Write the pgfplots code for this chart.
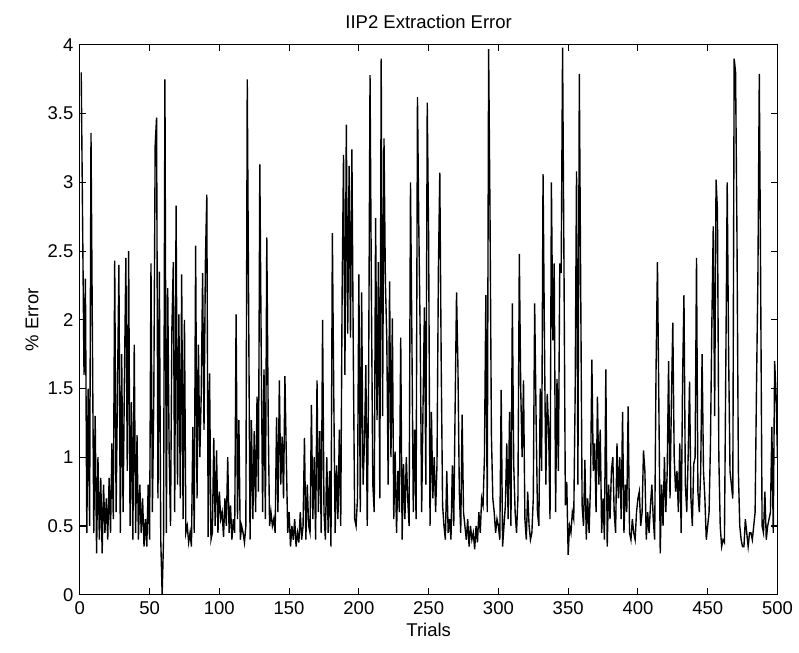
\documentclass[border=0pt]{standalone}
\usepackage{fontspec}
\setmainfont{Liberation Sans}
\usepackage{pgfplots}
\usepackage{pgfplotstable}
\pgfplotsset{compat=1.18}

% percent error of each trial, trials 1..500, ten per line
\pgfplotstableread[row sep=\\]{
err\\
3.80\\ 2.70\\ 1.60\\ 2.30\\ 0.45\\ 1.50\\ 0.50\\ 3.36\\ 1.90\\ 0.45\\
1.30\\ 0.30\\ 1.00\\ 0.40\\ 0.85\\ 0.30\\ 0.80\\ 0.45\\ 0.70\\ 0.40\\
0.85\\ 0.45\\ 1.10\\ 0.55\\ 2.43\\ 0.60\\ 1.50\\ 2.40\\ 0.45\\ 1.75\\
0.60\\ 1.60\\ 2.45\\ 0.90\\ 2.50\\ 0.50\\ 1.40\\ 0.40\\ 1.82\\ 0.45\\
1.16\\ 0.40\\ 0.80\\ 0.45\\ 0.70\\ 0.35\\ 0.55\\ 0.35\\ 0.80\\ 0.40\\
2.41\\ 0.60\\ 1.40\\ 3.27\\ 3.47\\ 0.70\\ 2.35\\ 0.40\\ 0.00\\ 0.40\\
3.75\\ 0.45\\ 2.23\\ 1.05\\ 0.50\\ 1.94\\ 2.42\\ 0.60\\ 2.83\\ 0.80\\
2.04\\ 0.70\\ 2.33\\ 0.55\\ 2.00\\ 0.45\\ 0.50\\ 0.38\\ 0.45\\ 0.35\\
1.22\\ 0.45\\ 2.54\\ 0.70\\ 1.82\\ 1.00\\ 1.45\\ 2.34\\ 1.20\\ 2.42\\
2.91\\ 0.42\\ 1.61\\ 0.40\\ 0.45\\ 1.14\\ 0.50\\ 1.05\\ 0.45\\ 0.75\\
0.55\\ 0.60\\ 0.42\\ 0.70\\ 0.50\\ 1.00\\ 0.45\\ 0.65\\ 0.40\\ 0.55\\
0.45\\ 2.04\\ 0.55\\ 1.27\\ 0.40\\ 0.50\\ 0.45\\ 0.38\\ 0.50\\ 3.75\\
2.08\\ 0.40\\ 1.27\\ 0.55\\ 1.19\\ 0.60\\ 1.44\\ 0.75\\ 3.13\\ 1.79\\
0.60\\ 1.64\\ 0.55\\ 2.60\\ 1.30\\ 0.50\\ 0.60\\ 0.50\\ 0.55\\ 0.45\\
1.29\\ 0.60\\ 1.56\\ 0.80\\ 1.15\\ 0.70\\ 1.59\\ 1.00\\ 0.45\\ 0.60\\
0.35\\ 0.50\\ 0.40\\ 0.55\\ 0.35\\ 0.45\\ 0.38\\ 0.60\\ 0.40\\ 0.50\\
1.14\\ 0.40\\ 0.80\\ 0.50\\ 0.45\\ 1.38\\ 0.55\\ 1.00\\ 0.40\\ 1.56\\
0.60\\ 1.19\\ 0.45\\ 2.00\\ 0.60\\ 0.40\\ 1.00\\ 0.45\\ 0.90\\ 0.35\\
2.63\\ 1.46\\ 0.45\\ 0.94\\ 0.55\\ 1.20\\ 0.50\\ 2.20\\ 3.20\\ 1.60\\
3.42\\ 1.90\\ 3.12\\ 1.87\\ 3.24\\ 1.76\\ 0.55\\ 0.50\\ 0.70\\ 2.33\\
0.60\\ 2.20\\ 0.80\\ 1.10\\ 1.67\\ 0.50\\ 1.60\\ 3.78\\ 2.15\\ 0.80\\
0.60\\ 2.74\\ 1.27\\ 2.42\\ 0.70\\ 3.90\\ 1.30\\ 3.32\\ 2.28\\ 1.87\\
0.80\\ 2.28\\ 1.00\\ 2.01\\ 0.55\\ 1.04\\ 0.45\\ 0.90\\ 0.60\\ 1.87\\
0.40\\ 0.95\\ 0.55\\ 1.00\\ 0.70\\ 0.50\\ 3.00\\ 1.87\\ 0.60\\ 1.20\\
0.55\\ 3.62\\ 2.64\\ 1.85\\ 0.60\\ 1.38\\ 2.09\\ 0.80\\ 3.58\\ 2.59\\
0.50\\ 1.33\\ 0.70\\ 1.00\\ 0.60\\ 0.95\\ 2.37\\ 3.07\\ 1.70\\ 0.65\\
0.50\\ 0.40\\ 0.90\\ 0.45\\ 0.55\\ 0.40\\ 0.94\\ 0.50\\ 1.37\\ 2.20\\
1.66\\ 0.75\\ 0.45\\ 1.31\\ 0.60\\ 0.50\\ 0.40\\ 0.55\\ 0.35\\ 0.50\\
0.40\\ 0.45\\ 0.33\\ 0.50\\ 0.38\\ 0.60\\ 0.45\\ 0.70\\ 0.65\\ 1.00\\
2.18\\ 0.60\\ 3.97\\ 2.76\\ 1.16\\ 0.70\\ 0.60\\ 0.45\\ 0.55\\ 0.50\\
0.40\\ 1.49\\ 0.35\\ 0.50\\ 0.65\\ 1.10\\ 0.55\\ 1.33\\ 0.50\\ 2.12\\
0.94\\ 0.60\\ 0.45\\ 0.70\\ 2.48\\ 1.50\\ 1.00\\ 1.56\\ 0.55\\ 0.40\\
0.75\\ 0.50\\ 0.40\\ 0.45\\ 0.70\\ 2.12\\ 1.30\\ 0.60\\ 0.50\\ 1.50\\
0.90\\ 3.06\\ 1.87\\ 0.80\\ 1.46\\ 1.20\\ 0.55\\ 3.00\\ 1.85\\ 2.41\\
0.60\\ 1.57\\ 0.90\\ 2.41\\ 2.34\\ 3.98\\ 2.41\\ 0.65\\ 0.82\\ 0.29\\
0.50\\ 0.45\\ 0.60\\ 0.55\\ 1.44\\ 3.08\\ 0.80\\ 3.79\\ 2.23\\ 0.65\\
0.50\\ 0.98\\ 0.40\\ 0.70\\ 0.45\\ 0.80\\ 1.71\\ 0.90\\ 1.10\\ 0.60\\
1.44\\ 0.80\\ 1.20\\ 0.45\\ 0.70\\ 0.40\\ 1.64\\ 0.35\\ 0.80\\ 0.55\\
0.90\\ 1.00\\ 0.60\\ 0.45\\ 1.10\\ 0.70\\ 1.00\\ 0.55\\ 1.33\\ 0.45\\
0.80\\ 0.60\\ 1.37\\ 0.45\\ 0.40\\ 0.55\\ 0.45\\ 0.40\\ 0.60\\ 0.70\\
0.75\\ 0.50\\ 0.60\\ 1.05\\ 0.90\\ 0.40\\ 0.60\\ 0.45\\ 0.65\\ 0.80\\
0.55\\ 0.40\\ 1.64\\ 2.42\\ 1.40\\ 0.30\\ 0.80\\ 0.50\\ 1.00\\ 0.60\\
0.90\\ 1.70\\ 0.70\\ 1.40\\ 1.98\\ 1.00\\ 0.75\\ 0.90\\ 0.60\\ 1.10\\
0.45\\ 1.55\\ 2.18\\ 0.80\\ 0.60\\ 1.00\\ 1.55\\ 0.70\\ 0.50\\ 0.95\\
1.00\\ 2.45\\ 0.75\\ 0.60\\ 0.90\\ 1.75\\ 0.90\\ 0.70\\ 0.40\\ 0.50\\
0.60\\ 1.10\\ 1.98\\ 2.68\\ 1.30\\ 3.02\\ 2.80\\ 1.00\\ 0.50\\ 0.35\\
0.40\\ 0.38\\ 1.67\\ 3.00\\ 1.76\\ 0.90\\ 0.80\\ 0.70\\ 3.90\\ 3.80\\
2.61\\ 0.90\\ 0.50\\ 0.40\\ 0.35\\ 0.35\\ 0.55\\ 0.45\\ 0.35\\ 0.45\\
0.45\\ 0.40\\ 0.50\\ 0.60\\ 1.52\\ 2.31\\ 3.79\\ 2.23\\ 0.50\\ 0.45\\
0.75\\ 0.40\\ 0.50\\ 0.55\\ 0.60\\ 1.22\\ 0.45\\ 1.70\\ 1.46\\ 1.00\\
}\errtable

\begin{document}
\begin{tikzpicture}
\begin{axis}[
    scale only axis,
    width=377.5pt, height=297.5pt,
    xmin=0, xmax=500, ymin=0, ymax=4,
    xtick={0,50,...,500},
    ytick={0,0.5,...,4},
    yticklabel style={/pgf/number format/fixed},
    /pgf/number format/assume math mode=true,
    tick align=inside,
    major tick length=3.5pt,
    axis line style={line width=0.6pt},
    every tick/.style={black, line width=0.6pt},
    tick label style={font=\fontsize{10}{12}\selectfont},
    label style={font=\fontsize{10}{12}\selectfont},
    title style={font=\fontsize{10}{12}\selectfont, yshift=-1pt},
    title={IIP2 Extraction Error},
    xlabel={Trials},
    ylabel={\% Error},
    xlabel style={yshift=2pt},
    ylabel style={yshift=-2pt},
    clip=true,
]
\addplot[black, line width=0.75pt, mark=none]
    table[x expr=\coordindex+1, y=err] {\errtable};
\coordinate (sw) at (rel axis cs:0,0);
\coordinate (ne) at (rel axis cs:1,1);
\end{axis}
\useasboundingbox ([shift={(-43.2pt,-31.3pt)}]sw) rectangle ([shift={(10.8pt,24.3pt)}]ne);
\end{tikzpicture}
\end{document}
